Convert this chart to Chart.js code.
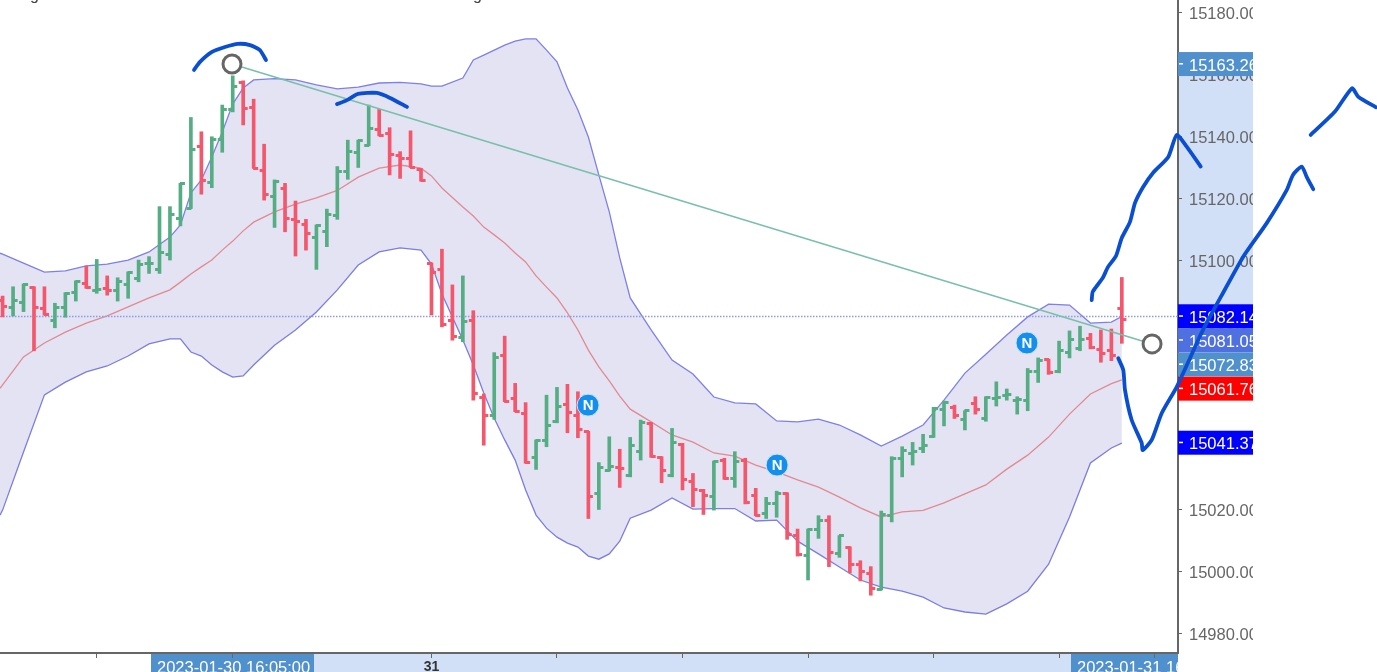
<!DOCTYPE html>
<html>
<head>
<meta charset="utf-8">
<title>Chart</title>
<script src="https://cdn.jsdelivr.net/npm/chart.js@4"></script>
<style>
  html, body { margin: 0; padding: 0; background: #fff; overflow: hidden; }
  canvas { display: block; }
</style>
</head>
<body>
<canvas id="chart" width="1377" height="672"></canvas>
<script>
// --- price bars, one entry per 5 minute bar ---
const barOpen = [15087.4,15084.9,15086.7,15091.5,15084.8,15081.0,15085.1,15089.7,15092.6,15090.6,15091.2,15090.4,15092.5,15094.4,15099.2,15097.1,15102.2,15113.7,15116.9,15136.8,15125.2,15139.2,15148.8,15157.6,15149.3,15129.0,15120.9,15123.4,15113.4,15111.6,15107.5,15109.4,15114.8,15128.7,15135.0,15137.1,15142.2,15141.1,15133.8,15133.0,15129.3,15099.2,15097.1,15081.0,15075.3,15081.0,15056.1,15050.4,15069.7,15055.8,15050.9,15036.8,15042.1,15048.2,15053.8,15050.4,15045.0,15025.0,15032.7,15033.5,15030.9,15038.8,15047.7,15036.8,15031.1,15041.0,15029.0,15026.0,15024.1,15035.9,15030.0,15035.9,15024.6,15018.8,15021.8,15025.0,15011.7,15005.3,15013.4,15016.6,15005.9,15007.8,15002.4,14999.5,14994.3,15018.2,15036.5,15038.1,15039.7,15043.4,15052.2,15052.8,15049.1,15054.1,15049.3,15055.8,15056.6,15055.2,15055.2,15064.3,15068.3,15064.3,15070.6,15071.9,15075.1,15071.5,15071.1,15084.8];
const barHigh = [15088.7,15091.7,15092.6,15091.7,15091.7,15086.4,15089.8,15093.6,15098.4,15100.5,15095.2,15094.6,15096.5,15100.3,15101.4,15117.5,15117.5,15125.0,15146.2,15141.6,15140.0,15150.2,15159.6,15158.0,15152.1,15137.6,15126.1,15125.0,15119.3,15113.4,15111.6,15116.7,15130.4,15138.9,15138.9,15150.2,15148.8,15142.9,15135.2,15141.9,15129.8,15099.4,15103.8,15092.3,15095.2,15084.0,15057.2,15070.5,15075.8,15060.6,15054.4,15042.4,15056.8,15059.3,15060.3,15057.9,15045.2,15035.1,15043.4,15039.4,15043.2,15048.8,15048.0,15037.0,15046.1,15041.3,15031.6,15026.5,15035.6,15036.5,15038.6,15036.5,15026.8,15023.9,15025.9,15025.4,15013.7,15013.7,15018.0,15018.0,15011.6,15008.0,15003.5,15001.6,15019.5,15037.0,15040.2,15041.6,15044.2,15052.9,15054.9,15053.6,15051.8,15056.3,15056.3,15061.1,15058.8,15056.3,15065.4,15068.8,15068.4,15074.2,15077.5,15079.0,15076.7,15077.8,15078.1,15094.7];
const barLow = [15082.0,15082.3,15083.7,15071.1,15082.6,15078.5,15081.9,15087.1,15091.2,15089.6,15089.0,15087.1,15088.0,15093.3,15096.0,15096.0,15100.3,15111.3,15116.9,15121.5,15123.6,15135.0,15148.0,15143.8,15129.8,15119.6,15110.8,15109.4,15101.6,15103.5,15097.3,15104.6,15113.4,15126.3,15130.1,15137.1,15140.3,15127.7,15126.6,15130.1,15125.7,15082.6,15078.8,15074.5,15074.0,15055.2,15040.7,15049.0,15054.7,15051.5,15034.9,15032.9,15040.2,15047.9,15044.7,15043.1,15017.1,15020.0,15032.4,15027.1,15030.5,15035.9,15036.8,15028.6,15030.5,15026.3,15020.9,15018.4,15019.8,15029.7,15027.1,15021.8,15018.0,15017.1,15017.5,15010.4,15005.0,14997.3,15010.7,15001.6,15004.6,14999.6,14997.0,14992.4,14994.1,15016.0,15030.5,15034.3,15038.3,15043.2,15046.9,15049.3,15045.6,15050.7,15048.4,15053.3,15055.2,15050.7,15051.8,15060.9,15063.5,15064.0,15068.8,15071.1,15071.7,15067.4,15067.9,15073.5];
const barClose = [15085.3,15087.2,15092.3,15084.9,15082.9,15085.1,15089.6,15093.3,15091.5,15090.9,15090.6,15093.3,15096.3,15099.0,15099.3,15102.8,15115.1,15124.8,15135.9,15125.8,15139.2,15148.8,15156.1,15149.1,15129.8,15121.5,15125.5,15113.7,15112.6,15108.9,15111.3,15115.0,15128.7,15135.2,15138.9,15142.7,15140.5,15134.4,15133.0,15130.1,15126.0,15096.3,15079.7,15075.6,15080.4,15057.4,15050.2,15069.0,15054.9,15051.7,15035.2,15042.1,15046.9,15053.3,15051.3,15045.8,15024.1,15033.4,15034.0,15033.2,15040.7,15048.0,15037.0,15032.4,15041.6,15029.5,15026.3,15024.5,15035.4,15030.0,15035.4,15022.2,15018.2,15021.8,15025.2,15012.1,15005.6,15013.6,15016.6,15006.2,15011.5,15002.4,14999.9,14994.6,15018.5,15036.5,15039.1,15038.6,15040.7,15052.6,15054.3,15050.4,15051.8,15052.2,15056.1,15056.1,15056.9,15055.5,15064.3,15068.1,15064.1,15071.3,15074.6,15074.6,15072.2,15070.3,15069.5,15081.05];

// --- bollinger bands, read at these bar numbers ---
const bandIdx = [-0.249,0,2,4,6,8,10,12,14,16,17,18,19,20,21,22,23,24,26,28,30,32,34,36,38,40,41,42,44,45,46,47,48,49,50,51,52,53,54,55,56,57,58,59,60,62,64,66,68,70,72,74,76,78,80,82,84,86,88,90,92,94,96,98,100,102,104,106,107];
const bandUpper = [15102.5,15102.2,15099.3,15096.4,15096.8,15098.4,15099.0,15100.3,15102.9,15107.7,15111.6,15121.9,15126.1,15133.5,15141.5,15150.5,15155.7,15158.3,15158.7,15158.3,15156.7,15155.4,15156.0,15157.3,15157.5,15157.0,15156.3,15156.3,15158.9,15164.7,15166.3,15167.9,15169.5,15170.8,15171.5,15171.5,15167.9,15164.1,15155.7,15148.6,15139.9,15127.7,15115.8,15101.0,15088.1,15077.8,15068.1,15063.6,15056.2,15054.3,15054.0,15048.5,15048.2,15049.1,15047.2,15044.0,15040.4,15043.6,15047.2,15055.2,15063.9,15070.0,15076.2,15082.0,15086.1,15085.8,15080.0,15080.3,15082.14];
const bandMid = [15059.0,15060.1,15069.1,15073.6,15077.1,15080.0,15082.3,15085.2,15088.1,15090.7,15093.2,15095.8,15098.1,15100.3,15103.5,15106.4,15109.7,15112.5,15115.8,15118.3,15120.3,15122.7,15127.0,15129.9,15130.9,15129.9,15127.4,15123.5,15117.4,15114.5,15110.9,15108.4,15105.8,15102.6,15099.7,15095.2,15091.6,15088.1,15083.3,15077.8,15071.3,15065.9,15061.4,15056.5,15052.3,15048.2,15044.0,15041.7,15038.2,15037.2,15034.3,15032.1,15029.5,15027.2,15024.0,15020.5,15017.6,15019.2,15019.7,15022.1,15025.0,15027.9,15033.0,15037.5,15043.3,15050.7,15057.2,15060.5,15061.76];
const bandLower = [15018.2,15019.8,15038.5,15056.9,15061.0,15064.3,15066.2,15069.4,15073.3,15074.9,15074.9,15070.7,15069.4,15066.5,15064.3,15062.6,15063.0,15066.5,15072.9,15077.8,15083.6,15090.7,15098.7,15102.9,15104.2,15103.5,15099.0,15089.4,15074.6,15066.5,15057.5,15049.4,15042.4,15035.9,15026.3,15018.2,15014.0,15011.1,15009.2,15007.9,15005.0,15004.0,15005.7,15009.8,15017.2,15019.8,15023.7,15020.1,15020.3,15020.3,15016.3,15016.6,15009.8,15005.7,15001.5,14997.3,14995.0,14993.7,14991.8,14988.3,14987.0,14986.3,14989.6,14993.7,15002.4,15017.6,15035.0,15039.8,15041.37];

// --- axes ---
const xMin = -0.249, xMax = 112.37, yMin = 14973.8, yMax = 15184.02;
const yTicks = [14980,15000,15020,15040,15060,15080,15100,15120,15140,15160,15180];
const xTicks = [9,22,41,53,65,77,89,101,110.1];
const xTickLabels = ['','','31','','','','','',''];

// --- drawings on top of the chart ---
const lastPrice = 15082.14;
const trendIdx = [21.93,109.89];
const trendVal = [15163.41,15073.3];
const newsIdx = [55.97,74.04,97.93];
const newsVal = [15053.6,15034.3,15073.6];

const penA = [[18.3,15161.5],[18.87,15164.1],[20.02,15167.3],[21.26,15168.9],[22.5,15169.9],[23.65,15169.5],[24.6,15167.9],[25.18,15164.7]];
const penB = [[31.97,15150.5],[32.93,15151.8],[33.98,15153.8],[35.79,15154.1],[37.04,15152.5],[38.66,15149.6]];
const penC = [[104.12,15087.4],[104.22,15090.1],[105.17,15094.5],[105.68,15098.1],[106.44,15101.6],[106.99,15107.4],[107.78,15112.6],[108.26,15118.7],[109.05,15123.9],[110.01,15128.5],[111.44,15133.5],[112.25,15140.6],[113.2,15136.8],[114.54,15130.4]];
const penD = [[106.66,15068.7],[107.14,15064.9],[107.3,15058.5],[107.94,15048.8],[108.9,15041.4],[109.0,15039.1],[109.86,15042.4],[110.81,15051.0],[112.25,15059.5],[114.76,15077.8],[116.67,15089.7],[118.61,15101.4],[120.85,15112.2],[122.76,15122.8],[123.36,15127.7],[124.2,15130.4],[124.67,15127.1],[125.3,15123.1]];
const penE = [[125.06,15140.6],[127.38,15148.1],[129.0,15155.6],[129.6,15152.9],[131.27,15149.5]];

// price tags on the right axis, labels stacked so they do not overlap
const tagLabels = ['15163.26','15082.14','15081.05','15072.83','15061.76','15041.37'];
const tagAnchor = [15163.4,15082.2,15074.5,15066.7,15058.9,15041.5];
const tagColors = ['#5090cc','#0000ff','#4f70e0','#5090cc','#ff0000','#0000ff'];

const GREEN = '#55ad84', RED = '#f5566b', GRID = '#666666';
const FONT = '"Liberation Sans", Arial, sans-serif';
const isUp = i => barClose[i] >= barOpen[i];

// small tick images for open (left) and close (right)
function tickImage(color, left) {
    const c = document.createElement('canvas');
    c.width = 13; c.height = 3;
    const g = c.getContext('2d');
    g.fillStyle = color;
    g.fillRect(left ? 2 : 6, 0, 5, 3);
    return c;
}
const openUp = tickImage(GREEN, true), openDown = tickImage(RED, true);
const closeUp = tickImage(GREEN, false), closeDown = tickImage(RED, false);

const toPoints = (xs, ys) => xs.map((x, i) => ({ x: x, y: ys[i] }));
const penPoints = arr => arr.map(p => ({ x: p[0], y: p[1] }));

// indexAxis y, otherwise points right of the x axis max get culled
function penSet(arr) {
    return {
        type: 'line', data: penPoints(arr), order: 0, clip: false, indexAxis: 'y',
        borderColor: '#0a4fd2', borderWidth: 3.8, pointRadius: 0, tension: 0.2, capBezierPoints: false,
        borderCapStyle: 'round', borderJoinStyle: 'round', fill: false
    };
}

// painted below the axis labels
const backPlugin = {
    id: 'backPlugin',
    beforeDraw(chart) {
        const c = chart.ctx, y = chart.scales.y;
        c.save();
        c.fillStyle = '#d1e0f7';
        c.fillRect(1178, y.getPixelForValue(15163.4), 75, y.getPixelForValue(15066.7) - y.getPixelForValue(15163.4));
        c.fillRect(314, 653, 757, 19);
        c.fillStyle = '#5090cc';
        c.fillRect(151, 653, 163, 19);
        c.fillRect(1071, 653, 107, 19);
        c.restore();
    },
    // axes are done by now: cut the labels, then the tags go on top
    beforeDatasetsDraw(chart) {
        const c = chart.ctx, y = chart.scales.y;
        c.save();
        c.fillStyle = '#ffffff';
        c.fillRect(1253, 0, 124, 672);
        tagLabels.forEach((label, i) => {
            const py = y.getPixelForValue(tagAnchor[i]);
            c.fillStyle = tagColors[i];
            c.fillRect(1178, py - 12, 75, 24);
            c.fillStyle = '#ffffff';
            c.fillRect(1179, py - 1, 4, 1.5);
            c.save();
            c.beginPath();
            c.rect(1178, py - 12, 75, 24);
            c.clip();
            c.font = '16.5px ' + FONT;
            c.textBaseline = 'middle';
            c.fillText(label, 1189, py + 2);
            c.restore();
        });
        // time tags under the x axis
        c.beginPath();
        c.rect(151, 653, 1027, 19);
        c.clip();
        c.fillStyle = '#ffffff';
        c.font = '16.5px ' + FONT;
        c.fillText('2023-01-30 16:05:00', 157, 673);
        c.fillText('2023-01-31 16:05:00', 1077, 673);
        c.restore();

        // cut off title line at the very top
        c.save();
        c.fillStyle = '#444444';
        c.font = '16px ' + FONT;
        c.fillText('g', 30, 0);
        c.fillText('g', 473, 0);
        c.restore();
    },
    afterDatasetsDraw(chart) {
        const c = chart.ctx;
        c.save();
        c.fillStyle = '#ffffff';
        c.font = 'bold 15px ' + FONT;
        c.textAlign = 'center';
        c.textBaseline = 'middle';
        newsIdx.forEach((x, i) => {
            c.fillText('N', chart.scales.x.getPixelForValue(x), chart.scales.y.getPixelForValue(newsVal[i]) + 0.5);
        });
        c.restore();
    }
};

new Chart(document.getElementById('chart'), {
    type: 'bar',
    plugins: [backPlugin],
    data: {
        datasets: [
            // bands
            {
                type: 'line', data: toPoints(bandIdx, bandUpper), order: 8, borderColor: '#7f7fe8', borderWidth: 1.3,
                pointRadius: 0, fill: { target: 1 }, backgroundColor: 'rgba(108,108,190,0.19)'
            },
            { type: 'line', data: toPoints(bandIdx, bandLower), order: 8, borderColor: '#7f7fe8', borderWidth: 1.3, pointRadius: 0, fill: false },
            { type: 'line', data: toPoints(bandIdx, bandMid), order: 7, borderColor: '#e28a92', borderWidth: 1.3, pointRadius: 0, fill: false },
            // last price line
            {
                type: 'line', data: toPoints([xMin, xMax], [lastPrice, lastPrice]), order: 6,
                borderColor: '#8d9bea', borderWidth: 1.5, borderDash: [1.5, 1.5], pointRadius: 0, fill: false
            },
            // high-low stems
            {
                type: 'bar', data: barLow.map((l, i) => ({ x: i, y: [l, barHigh[i]] })), order: 5, barThickness: 3, grouped: false,
                backgroundColor: barLow.map((l, i) => isUp(i) ? GREEN : RED)
            },
            // open and close ticks
            {
                type: 'scatter', data: barOpen.map((v, i) => ({ x: i, y: v })), order: 4, showLine: false,
                pointStyle: ctx => isUp(ctx.dataIndex) ? openUp : openDown
            },
            {
                type: 'scatter', data: barClose.map((v, i) => ({ x: i, y: v })), order: 4, showLine: false,
                pointStyle: ctx => isUp(ctx.dataIndex) ? closeUp : closeDown
            },
            // trend line with its two handles
            { type: 'line', data: toPoints(trendIdx, trendVal), order: 3, borderColor: '#78c0ab', borderWidth: 1.5, pointRadius: 0, fill: false, clip: false },
            {
                type: 'scatter', data: toPoints(trendIdx, trendVal), order: 2, clip: false, showLine: false,
                pointRadius: 9, pointBorderWidth: 3, pointBorderColor: '#666666', pointBackgroundColor: '#ffffff'
            },
            // news markers
            {
                type: 'scatter', data: toPoints(newsIdx, newsVal), order: 1, showLine: false,
                pointRadius: 11, pointBorderWidth: 1, pointBorderColor: '#cfe6fb', pointBackgroundColor: '#148fee'
            },
            // hand drawn pen strokes
            penSet(penA), penSet(penB), penSet(penC), penSet(penD), penSet(penE)
        ]
    },
    options: {
        responsive: false,
        animation: false,
        devicePixelRatio: 1,
        layout: { padding: 0, autoPadding: false },
        plugins: { legend: { display: false }, tooltip: { enabled: false } },
        scales: {
            x: {
                type: 'linear', min: xMin, max: xMax, offset: false,
                grid: { drawOnChartArea: false, offset: false, color: GRID, tickLength: 5 },
                border: { color: GRID, width: 2 },
                ticks: {
                    padding: 1, maxRotation: 0, autoSkip: false, color: '#333333',
                    font: { family: FONT, size: 14, weight: 'bold' },
                    callback: (v, i) => xTickLabels[i]
                },
                afterBuildTicks: s => { s.ticks = xTicks.map(v => ({ value: v })); },
                afterFit: s => { s.height = 19; s.paddingLeft = s.paddingRight = s.paddingTop = s.paddingBottom = 0; }
            },
            y: {
                type: 'linear', position: 'right', min: yMin, max: yMax,
                grid: { drawOnChartArea: false, color: GRID, tickLength: 4 },
                border: { color: GRID, width: 2 },
                ticks: {
                    padding: 7, labelOffset: 1.5, color: '#666666', autoSkip: false,
                    font: { family: FONT, size: 16.5 },
                    callback: v => v.toFixed(2)
                },
                afterBuildTicks: s => { s.ticks = yTicks.map(v => ({ value: v })); },
                afterFit: s => { s.width = 199; s.paddingLeft = s.paddingRight = s.paddingTop = s.paddingBottom = 0; }
            }
        }
    }
});
</script>
</body>
</html>
